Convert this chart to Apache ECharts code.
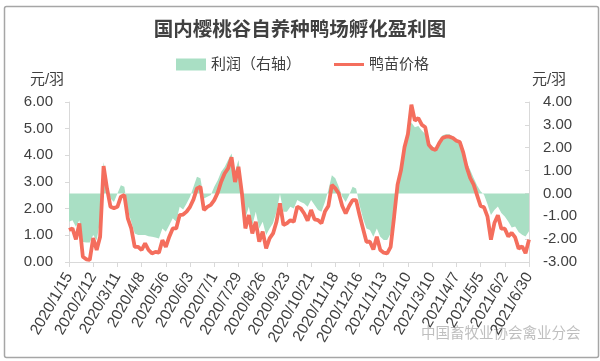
<!DOCTYPE html>
<html><head><meta charset="utf-8">
<script src="https://cdn.jsdelivr.net/npm/echarts@6/dist/echarts.min.js"></script>
<style>html,body{margin:0;padding:0;background:#fff}#c{width:600px;height:361px}</style>
</head><body><div id="c"></div>
<script>
// Sampled every 4 days starting 2020/1/15 (last point 2021/6/30)
const startYear = 2020, startMonth = 1, startDay = 15, stepDays = 4;

// 鸭苗价格 (元/羽, left axis)
const price = [
  1.20,1.26,0.85,1.45,0.20,0.10,0.08,0.90,0.45,0.95,
  3.60,2.75,2.07,2.02,2.07,2.45,2.51,1.64,1.26,0.57,
  0.57,0.45,0.70,0.45,0.32,0.38,0.35,0.82,0.57,0.95,
  1.26,1.26,1.76,1.78,1.89,2.07,2.35,2.76,2.82,1.95,
  2.07,2.14,2.32,2.60,3.01,3.32,3.51,3.93,3.00,3.57,
  2.57,1.26,1.76,1.07,1.51,0.76,1.14,0.51,0.89,1.07,
  1.51,2.20,1.39,1.45,1.57,1.51,2.07,2.01,1.82,1.55,
  1.95,1.60,1.57,1.45,1.89,2.10,2.89,2.76,2.57,2.10,
  1.82,2.10,2.32,2.32,1.76,1.26,0.76,0.76,0.47,0.95,
  0.45,0.35,0.32,0.57,1.70,2.90,3.45,4.30,4.80,5.90,
  5.30,5.40,5.15,5.05,4.40,4.25,4.20,4.45,4.65,4.70,
  4.70,4.65,4.55,4.50,4.10,3.55,3.15,2.90,2.50,2.10,
  2.05,1.70,0.84,1.46,1.75,1.25,1.25,0.96,1.09,0.92,
  0.50,0.59,0.33,0.84
];

// 利润 (元/羽, right axis)
const profit = [
  -1.24,-1.17,-1.46,-1.17,-2.12,-2.15,-2.15,-1.82,-2.05,-1.20,
  1.38,0.44,-0.22,-0.37,0.00,0.36,0.29,-0.73,-1.24,-1.75,
  -1.82,-1.82,-1.82,-1.87,-1.90,-1.93,-1.97,-1.53,-1.68,-1.39,
  -1.09,-1.24,-0.58,-0.70,-0.44,-0.15,0.29,0.73,0.66,-0.22,
  -0.15,-0.07,0.29,0.58,0.95,1.16,1.46,1.75,0.95,1.46,
  0.29,-1.09,-0.58,-1.39,-0.80,-1.53,-1.24,-1.82,-1.53,-1.31,
  -0.80,-0.03,-0.80,-0.80,-0.58,-0.66,-0.29,-0.37,-0.44,-0.58,
  -0.29,-0.51,-0.73,-0.80,-0.37,0.15,0.80,0.66,0.29,-0.15,
  -0.37,-0.07,0.29,0.22,-0.51,-1.09,-1.53,-1.60,-1.90,-1.53,
  -1.90,-2.04,-2.04,-1.75,-0.58,0.60,1.15,1.90,2.40,3.10,
  2.90,2.95,2.75,2.60,2.05,2.05,1.98,2.20,2.54,2.59,
  2.59,2.49,2.35,2.27,1.84,1.33,1.03,0.67,0.35,0.09,
  -0.06,-0.47,-0.94,-0.72,-0.57,-0.86,-1.01,-1.23,-1.49,-1.45,
  -1.69,-1.81,-1.88,-1.65
];

const leftTicks = { min: 0, max: 6, interval: 1 };
const rightTicks = { min: -3, max: 4, interval: 1 };

const categories = [];
(function () {
  const t0 = Date.UTC(startYear, startMonth - 1, startDay);
  for (let i = 0; i < price.length; i++) {
    const d = new Date(t0 + i * stepDays * 86400000);
    categories.push(d.getUTCFullYear() + '/' + (d.getUTCMonth() + 1) + '/' + d.getUTCDate());
  }
})();

const FONT = '"Liberation Sans","Noto Sans CJK SC",sans-serif';
const TXT = '#404040';
const AXC = '#d9d9d9';
const GREEN = '#a9dfc4';
const RED = '#f46e5d';

const chart = echarts.init(document.getElementById('c'), null, { renderer: 'canvas' });
chart.setOption({
  animation: false,
  backgroundColor: '#fff',
  textStyle: { fontFamily: FONT },
  title: {
    text: '国内樱桃谷自养种鸭场孵化盈利图',
    left: 'center', top: 16,
    textStyle: { fontSize: 19.5, fontWeight: 'bold', color: TXT, fontFamily: FONT }
  },
  legend: {
    left: 171, top: 52, itemWidth: 30, itemHeight: 12, itemGap: 33,
    selectedMode: false,
    textStyle: { fontSize: 15, color: TXT, fontFamily: FONT },
    data: [
      { name: '利润（右轴）', icon: 'rect' },
      { name: '鸭苗价格', icon: 'path://M0,0L10,0L10,1L0,1Z' }
    ]
  },
  grid: { left: 69, right: 71, top: 102, bottom: 99 },
  xAxis: {
    type: 'category', data: categories, boundaryGap: false,
    axisLine: { lineStyle: { color: AXC } },
    axisTick: { interval: 6, length: 5, lineStyle: { color: AXC } },
    axisLabel: { interval: 6, rotate: 60, fontSize: 15.5, color: TXT, margin: 12, fontFamily: FONT }
  },
  yAxis: [
    {
      type: 'value', min: leftTicks.min, max: leftTicks.max, interval: leftTicks.interval,
      axisLine: { show: true, lineStyle: { color: AXC } },
      axisTick: { show: true, length: 4, lineStyle: { color: AXC } },
      splitLine: { show: false },
      axisLabel: { formatter: v => v.toFixed(2), fontSize: 15, color: TXT, margin: 16, fontFamily: FONT }
    },
    {
      type: 'value', position: 'right', min: rightTicks.min, max: rightTicks.max, interval: rightTicks.interval,
      axisLine: { show: true, lineStyle: { color: AXC } },
      axisTick: { show: true, length: 4, inside: true, lineStyle: { color: AXC } },
      splitLine: { show: false },
      axisLabel: { formatter: v => v.toFixed(2), fontSize: 15, color: TXT, margin: 14, fontFamily: FONT }
    }
  ],
  series: [
    {
      name: '利润（右轴）', type: 'line', yAxisIndex: 1, data: profit,
      symbol: 'none', lineStyle: { width: 0, color: GREEN }, itemStyle: { color: GREEN },
      areaStyle: { color: GREEN, opacity: 1, origin: 0 }, z: 1
    },
    {
      name: '鸭苗价格', type: 'line', yAxisIndex: 0, data: price,
      symbol: 'none', lineStyle: { width: 3.8, color: RED }, itemStyle: { color: RED }, z: 2
    }
  ],
  graphic: [
    { type: 'rect', left: 2, top: 4, shape: { width: 594, height: 351, r: 2 },
      style: { fill: null, stroke: '#a6a6a6', lineWidth: 1.5 }, silent: true },
    { type: 'text', x: 47, y: 80, style: { text: '元/羽', fill: TXT, font: '15px ' + FONT, align: 'center', verticalAlign: 'middle' } },
    { type: 'text', x: 549, y: 80, style: { text: '元/羽', fill: TXT, font: '15px ' + FONT, align: 'center', verticalAlign: 'middle' } },
    { type: 'text', x: 421, y: 334, style: { text: '中国畜牧业协会禽业分会', font: '14.5px ' + FONT, fill: 'rgba(170,170,170,0.75)', verticalAlign: 'middle' } }
  ]
});
</script></body></html>
